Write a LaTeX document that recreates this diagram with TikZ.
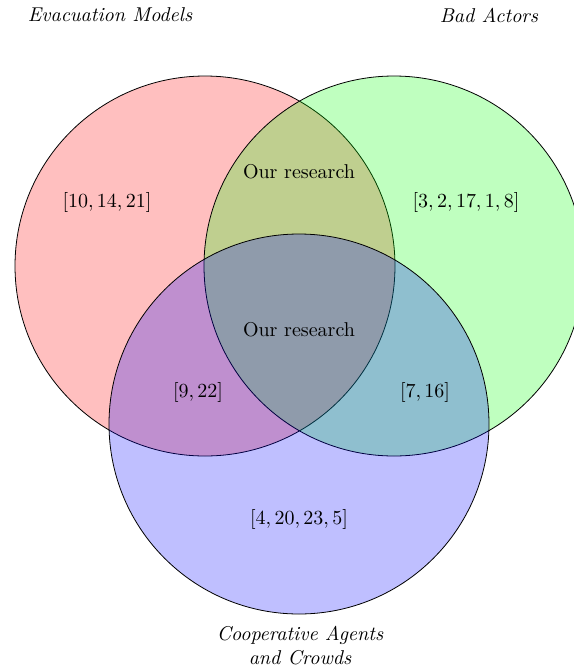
\documentclass[tikz,border=0pt]{standalone}
\begin{document}
\begin{tikzpicture}[x=0.5pt,y=-0.5pt,
  setcircle/.style={draw=black, line width=0.4pt, fill opacity=0.25},
  setlabel/.style={font=\itshape, align=center},
  region/.style={inner sep=0pt}]
\useasboundingbox (0,0) rectangle (574,671);
\fill[white] (0,0) rectangle (574,671);
\coordinate (ca) at (205,266);
\coordinate (cb) at (394,266);
\coordinate (cc) at (299,424);
\path[setcircle, fill=red] (ca) circle[radius=190];
\path[setcircle, fill=green] (cb) circle[radius=190];
\path[setcircle, fill=blue] (cc) circle[radius=190];
\node[setlabel] (la) at (110,15) {Evacuation Models};
\node[setlabel] (lb) at (489,15) {Bad Actors};
\node[setlabel] (lc) at (300,646) {Cooperative Agents\\and Crowds};
\node[region] (ra) at (107,202) {$[10,14,21]$};
\node[region] (rb) at (466,202) {$[3,2,17,1,8]$};
\node[region] (rab) at (299,172) {Our research};
\node[region] (rabc) at (299,330) {Our research};
\node[region] (rac) at (198,392) {$[9,22]$};
\node[region] (rbc) at (425,392) {$[7,16]$};
\node[region] (rc) at (299,519) {$[4,20,23,5]$};
\end{tikzpicture}
\end{document}
